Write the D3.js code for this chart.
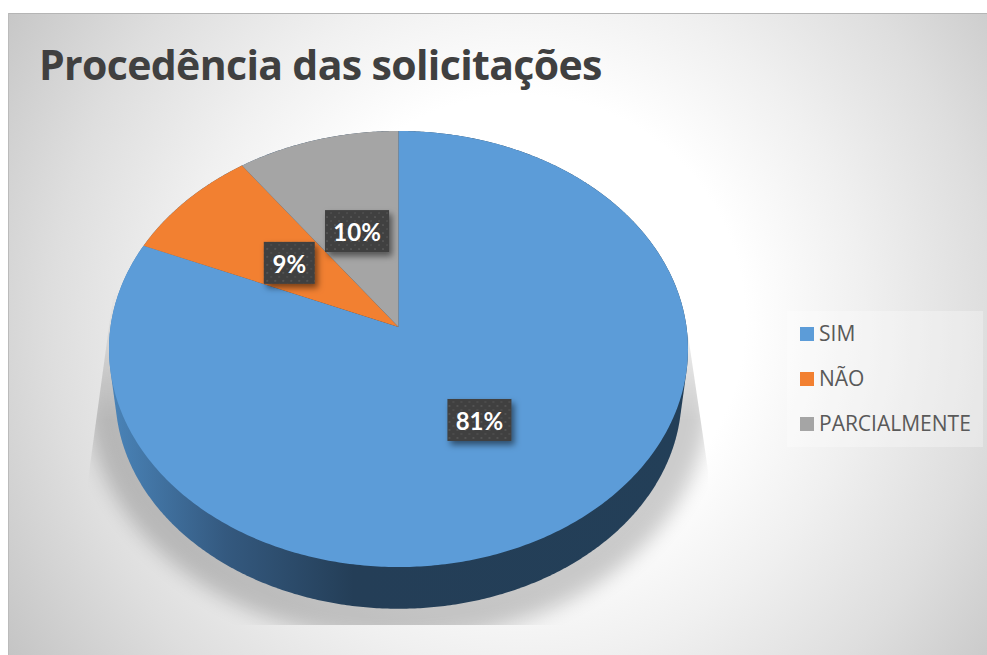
<!DOCTYPE html>
<html><head><meta charset="utf-8">
<script src="https://cdn.jsdelivr.net/npm/d3@7"></script>
<style>html,body{margin:0;padding:0;background:#fff}svg{display:block}</style>
</head><body><svg id="c" width="987" height="655"></svg>
<script>
const title = "Procedência das solicitações";
const categories = ["SIM", "NÃO", "PARCIALMENTE"];
const values = [81.4, 8.6, 10];
const labels = ["81%", "9%", "10%"];
const colors = ["#5c9cd8", "#f28031", "#a5a5a5"];

const svg = d3.select("#c");
const defs = svg.append("defs");

// background
const bg = defs.append("radialGradient").attr("id","bg").attr("gradientUnits","userSpaceOnUse")
  .attr("cx",520).attr("cy",320).attr("r",625);
[[0,"#fff"],[0.36,"#fff"],[0.55,"#f0f0f0"],[0.75,"#dedede"],[1,"#c2c2c2"]]
  .forEach(([o,c])=>bg.append("stop").attr("offset",o).attr("stop-color",c));
svg.append("rect").attr("x",8).attr("y",13).attr("width",979).attr("height",642).attr("fill","url(#bg)");
svg.append("rect").attr("x",8).attr("y",13).attr("width",979).attr("height",1).attr("fill","#b5b5b5");
svg.append("rect").attr("x",8).attr("y",13).attr("width",1).attr("height",642).attr("fill","#bbb");

// perspective projection of the unit disc
const cx = 398.5, cy = 327, c = -0.101, ax = 288, ay = 215.8;
function proj(angle, r){
  const u = Math.sin(angle)*r, v = -Math.cos(angle)*r, w = 1 + c*v;
  return [cx + ax*u/w, cy + ay*v/w];
}
const k = 0.978, depth = 47;
function lower(p){ return [cx + k*(p[0]-cx), cy + k*(p[1]-cy) + depth]; }

const angles = d3.range(0, 721).map(i => i/720*2*Math.PI);
const rim = angles.map(a => proj(a,1));
const lowRim = rim.map(lower);

// shadow: blurred ellipse, cut by the trapezoid and faded towards the top
defs.append("filter").attr("id","blur").attr("x","-20%").attr("y","-20%").attr("width","140%").attr("height","140%")
  .append("feGaussianBlur").attr("stdDeviation",10);
defs.append("clipPath").attr("id","shClip").append("path")
  .attr("d","M114,290 L88,480 L88,625 L712,625 L708,470 L688,335 Z");
const fade = defs.append("linearGradient").attr("id","fade").attr("gradientUnits","userSpaceOnUse")
  .attr("x1",0).attr("x2",0).attr("y1",290).attr("y2",420);
[[0,"#000"],[1,"#fff"]].forEach(([o,col])=>fade.append("stop").attr("offset",o).attr("stop-color",col));
defs.append("mask").attr("id","shMask").attr("maskUnits","userSpaceOnUse")
  .attr("x",0).attr("y",0).attr("width",987).attr("height",655)
  .append("rect").attr("width",987).attr("height",655).attr("fill","url(#fade)");
svg.append("g").attr("clip-path","url(#shClip)").attr("mask","url(#shMask)").append("ellipse")
  .attr("cx",398.5).attr("cy",392).attr("rx",312).attr("ry",248)
  .attr("fill","#000").attr("opacity",0.2).attr("filter","url(#blur)");

// side wall
const side = defs.append("linearGradient").attr("id","side").attr("gradientUnits","userSpaceOnUse")
  .attr("x1",110).attr("x2",690).attr("y1",0).attr("y2",0);
[[0,"#4a84b9"],[0.2,"#34597f"],[0.42,"#243e57"],[1,"#233f58"]]
  .forEach(([o,col])=>side.append("stop").attr("offset",o).attr("stop-color",col));
svg.append("path").attr("d","M"+d3.polygonHull(rim.concat(lowRim)).join("L")+"Z").attr("fill","url(#side)");

// top
const pie = d3.pie().sort(null)(values);
const line = d3.line();
svg.append("g").selectAll("path").data(pie).join("path")
  .attr("fill",(d,i)=>colors[i])
  .attr("d",d=>{
    const n = Math.max(2,Math.ceil((d.endAngle-d.startAngle)*90));
    const pts = d3.range(n+1).map(i=>proj(d.startAngle+(d.endAngle-d.startAngle)*i/n,1));
    return line([[cx,cy],...pts])+"Z";
  });

// title
svg.append("text").attr("x",39).attr("y",80).text(title)
  .attr("font-family","Open Sans").attr("font-weight",700).attr("font-size",41)
  .attr("letter-spacing",-0.65).attr("fill","#404040");

// data labels
const pat = defs.append("pattern").attr("id","dots").attr("patternUnits","userSpaceOnUse")
  .attr("width",8).attr("height",8);
pat.append("rect").attr("width",8).attr("height",8).attr("fill","#3f3f3f");
pat.append("rect").attr("x",1).attr("y",1).attr("width",2).attr("height",2).attr("fill","#525252");
pat.append("rect").attr("x",5).attr("y",5).attr("width",2).attr("height",2).attr("fill","#4c4c4c");
const sh = defs.append("filter").attr("id","ds").attr("x","-30%").attr("y","-30%").attr("width","170%").attr("height","170%");
sh.append("feDropShadow").attr("dx",3).attr("dy",4).attr("stdDeviation",3).attr("flood-color","#000").attr("flood-opacity",0.5);
const labelNudge = [[-2,-1],[0,1],[1,2]];
const lg = svg.append("g").selectAll("g").data(pie).join("g")
  .attr("transform",(d,i)=>{
    const p = proj((d.startAngle+d.endAngle)/2,0.5);
    return `translate(${p[0]+labelNudge[i][0]},${p[1]+labelNudge[i][1]})`;
  });
lg.append("rect").attr("x",(d,i)=>labels[i].length>2?-32:-25.5).attr("y",-21)
  .attr("width",(d,i)=>labels[i].length>2?64:51).attr("height",42)
  .attr("fill","url(#dots)").attr("filter","url(#ds)");
lg.append("text").attr("text-anchor","middle").attr("y",10).text((d,i)=>labels[i])
  .attr("font-family","Lato").attr("font-weight",700).attr("font-size",24).attr("fill","#fff");

// legend
svg.append("rect").attr("x",787).attr("y",311).attr("width",196).attr("height",136)
  .attr("fill","#fff").attr("opacity",0.3);
const y = d3.scalePoint().domain(categories).range([334,424]);
const leg = svg.append("g").selectAll("g").data(categories).join("g")
  .attr("transform",d=>`translate(800,${y(d)})`);
leg.append("rect").attr("y",-7).attr("width",14).attr("height",14).attr("fill",(d,i)=>colors[i]);
leg.append("text").attr("x",19).attr("y",7).text(d=>d)
  .attr("font-family","Open Sans").attr("font-size",21).attr("fill","#595959");
</script></body></html>
